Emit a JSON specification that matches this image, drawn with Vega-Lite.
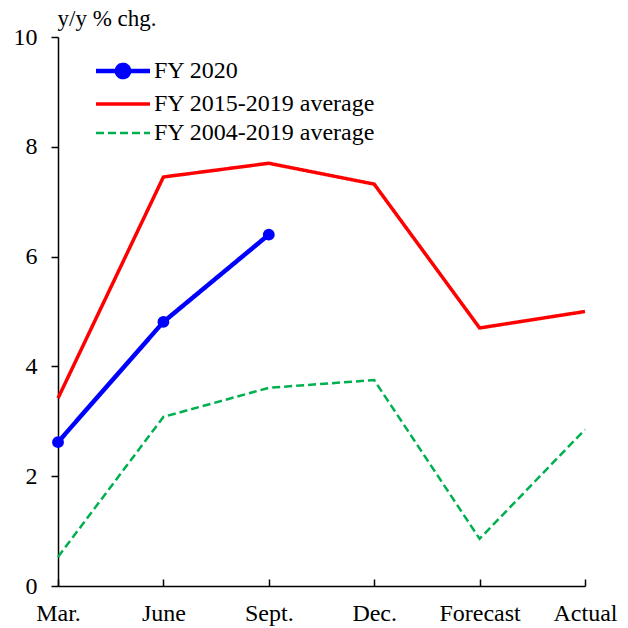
{
  "$schema": "https://vega.github.io/schema/vega-lite/v6.json",
  "width": 527,
  "height": 549,
  "autosize": "none",
  "padding": {"left": 58, "top": 37, "right": 43, "bottom": 42},
  "background": "white",
  "config": {
    "view": {"stroke": null},
    "font": "Liberation Serif",
    "axis": {"grid": false, "domainColor": "black", "tickColor": "black", "labelColor": "black", "titleColor": "black", "labelFont": "Liberation Serif", "titleFont": "Liberation Serif", "labelFontSize": 24, "titleFontSize": 23, "titleFontWeight": "normal", "domainWidth": 1.5, "tickWidth": 1.5}
  },
  "data": {
    "values": [
      {"period": "Mar.", "series": "FY 2020", "value": 2.62},
      {"period": "June", "series": "FY 2020", "value": 4.81},
      {"period": "Sept.", "series": "FY 2020", "value": 6.4},
      {"period": "Mar.", "series": "FY 2015-2019 average", "value": 3.42},
      {"period": "June", "series": "FY 2015-2019 average", "value": 7.45},
      {"period": "Sept.", "series": "FY 2015-2019 average", "value": 7.7},
      {"period": "Dec.", "series": "FY 2015-2019 average", "value": 7.32},
      {"period": "Forecast", "series": "FY 2015-2019 average", "value": 4.7},
      {"period": "Actual", "series": "FY 2015-2019 average", "value": 5.0},
      {"period": "Mar.", "series": "FY 2004-2019 average", "value": 0.53},
      {"period": "June", "series": "FY 2004-2019 average", "value": 3.08},
      {"period": "Sept.", "series": "FY 2004-2019 average", "value": 3.61},
      {"period": "Dec.", "series": "FY 2004-2019 average", "value": 3.75},
      {"period": "Forecast", "series": "FY 2004-2019 average", "value": 0.86},
      {"period": "Actual", "series": "FY 2004-2019 average", "value": 2.85}
    ]
  },
  "encoding": {
    "x": {
      "field": "period", "type": "ordinal",
      "scale": {"type": "point", "padding": 0, "domain": ["Mar.", "June", "Sept.", "Dec.", "Forecast", "Actual"]},
      "axis": {"title": null, "labelAngle": 0, "tickSize": -7, "labelPadding": 22, "labelBaseline": "top"}
    },
    "y": {
      "field": "value", "type": "quantitative",
      "scale": {"domain": [0, 10], "nice": false, "zero": true},
      "axis": {"values": [0, 2, 4, 6, 8, 10], "tickSize": 7, "labelPadding": 14, "title": "y/y % chg.", "titleAngle": 0, "titleAlign": "left", "titleBaseline": "alphabetic", "titleX": -1, "titleY": -12}
    }
  },
  "layer": [
    {
      "mark": {"type": "line", "strokeCap": "butt"},
      "encoding": {
        "color": {
          "field": "series", "type": "nominal",
          "scale": {"domain": ["FY 2020", "FY 2015-2019 average", "FY 2004-2019 average"], "range": ["#0000ff", "#ff0000", "#00b050"]},
          "legend": {
            "title": null, "orient": "none", "legendX": 53, "legendY": 22, "padding": 0,
            "labelFontSize": 24, "labelFont": "Liberation Serif", "labelColor": "black", "labelLimit": 0,
            "symbolSize": 324, "labelOffset": 19, "rowPadding": 5,
            "encode": {"symbols": {"update": {
              "shape": {"signal": "datum.value === 'FY 2020' ? 'M-3,0L3,0M-0.68,0A0.68,0.68 0 1,1 0.68,0A0.68,0.68 0 1,1 -0.68,0Z' : 'M-3,0L3,0'"},
              "fill": {"signal": "datum.value === 'FY 2020' ? '#0000ff' : 'transparent'"}
            }}}
          }
        },
        "strokeDash": {
          "field": "series", "type": "nominal",
          "scale": {"domain": ["FY 2020", "FY 2015-2019 average", "FY 2004-2019 average"], "range": [[1, 0], [1, 0], [8, 4]]}
        },
        "strokeWidth": {
          "field": "series", "type": "nominal",
          "scale": {"domain": ["FY 2020", "FY 2015-2019 average", "FY 2004-2019 average"], "range": [4.5, 2.5, 3]}
        }
      }
    },
    {
      "transform": [{"filter": "datum.series === 'FY 2020'"}],
      "mark": {"type": "point", "filled": true, "opacity": 1, "color": "#0000ff", "size": 140}
    }
  ]
}
